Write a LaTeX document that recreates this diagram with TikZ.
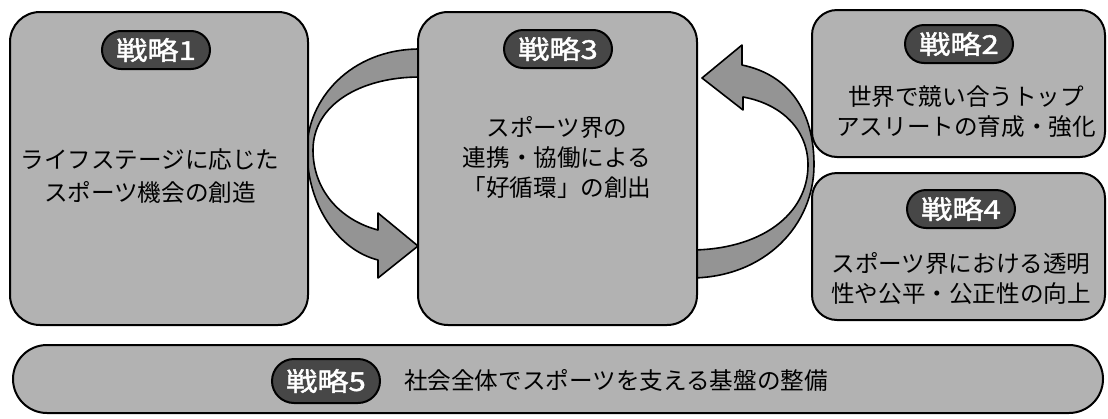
\documentclass[tikz,border=0pt]{standalone}
\usepackage{fontspec}
\setmainfont{Noto Sans CJK JP}
\newfontfamily\badgefont[FakeBold=1.5,FakeStretch=1.2]{Noto Sans CJK JP}
\tikzset{
  box/.style={draw=black, line width=1pt, fill=black!30, rounded corners=15pt},
  badge/.style={draw=black, line width=1pt, fill=black!72, text=white,
    rounded corners=9.5pt, minimum width=54pt, minimum height=19pt,
    inner sep=0pt, font=\badgefont\fontsize{13}{13}\selectfont},
  boxtext/.style={align=center, inner sep=0pt, font=\fontsize{11.8}{15}\selectfont},
  arrowshape/.style={draw=black, line width=0.8pt, fill=black!42, line join=round},
}

\begin{document}
\begin{tikzpicture}[x=0.5pt, y=-0.5pt]
			\useasboundingbox (0,0) rectangle (1108,418);
			%%%%% START %%%%%
			
			% curved arrows first, the boxes hide their tails
			\draw[arrowshape] (420,49) .. controls (350,49) and (307,100) .. (307,150)
				.. controls (307,205) and (338,250) .. (378,260)
				-- (378,278) -- (418,246) -- (378,213) -- (378,230)
				.. controls (340,220) and (313,190) .. (313,150)
				.. controls (313,105) and (360,77) .. (420,77) -- cycle;
			
			\draw[arrowshape] (690,278) .. controls (765,278) and (814,225) .. (814,165)
				.. controls (814,112) and (790,75) .. (742,65)
				-- (742,45) -- (702,78) -- (743,110) -- (743,97)
				.. controls (782,104) and (808,130) .. (808,165)
				.. controls (808,215) and (760,250) .. (690,250) -- cycle;
			
			% boxes
			\node[box, minimum width=149pt, minimum height=156.5pt] (s1) at (159,168.5) {};
			\node[box, minimum width=139.5pt, minimum height=156.5pt] (s3) at (557.5,168.5) {};
			\node[box, rounded corners=12.5pt, minimum width=146.5pt, minimum height=73.5pt] (s2) at (958.5,83.5) {};
			\node[box, rounded corners=12.5pt, minimum width=146.5pt, minimum height=73.5pt] (s4) at (958.5,246.5) {};
			\node[box, rounded corners=17pt, minimum width=545pt, minimum height=34pt] (s5) at (558,379) {};
			
			% badges
			\node[badge] (b1) at (156,50) {戦略1};
			\node[badge] (b3) at (558,49) {戦略3};
			\node[badge] (b2) at (959,44) {戦略2};
			\node[badge] (b4) at (961,209) {戦略4};
			\node[badge, minimum height=22pt, rounded corners=11pt] (b5) at (326,381) {戦略5};
			
			% texts
			\node[boxtext, font=\fontsize{11.8}{16.5}\selectfont] (t1) at (150,176.5) {ライフステージに応じた\\スポーツ機会の創造};
			\node[boxtext] (t3) at (557,157) {スポーツ界の\\連携・協働による\\「好循環」の創出};
			\node[boxtext] (t2) at (966,112) {世界で競い合うトップ\\アスリートの育成・強化};
			\node[boxtext] (t4) at (961,278) {スポーツ界における透明\\性や公平・公正性の向上};
			\node[boxtext] (t5) at (616,380) {社会全体でスポーツを支える基盤の整備};
			
			%%%%% END %%%%%
\end{tikzpicture}
\end{document}
